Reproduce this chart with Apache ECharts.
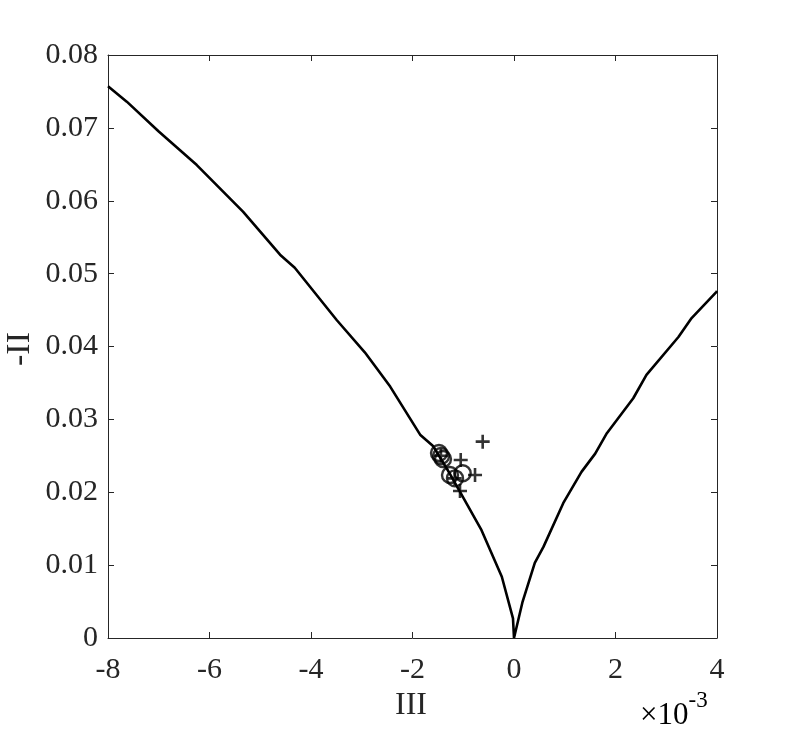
<!DOCTYPE html>
<html><head><meta charset="utf-8">
<script src="https://cdn.jsdelivr.net/npm/echarts@6/dist/echarts.min.js"></script>
<style>html,body{margin:0;padding:0;background:#fff}#c{width:793px;height:733px}</style>
</head><body><div id="c"></div>
<script>
// x values in units of 1e-3
const curveX = [-8.0, -7.63, -7.0, -6.25, -5.34, -4.61, -4.32, -3.49, -2.94, -2.44, -1.85, -1.59, -1.26, -0.64, -0.24, -0.02, 0.0, 0.17, 0.41, 0.58, 0.97, 1.33, 1.60, 1.83, 2.35, 2.61, 3.24, 3.50, 3.99, 4.0];
const curveY = [0.0757, 0.0736, 0.0695, 0.0649, 0.0585, 0.0526, 0.0508, 0.0436, 0.0392, 0.0345, 0.0279, 0.0263, 0.0225, 0.0148, 0.0084, 0.0027, 0.0, 0.0050, 0.0103, 0.0125, 0.0185, 0.0228, 0.0253, 0.0281, 0.0329, 0.0361, 0.0413, 0.0439, 0.0475, 0.0476];
const circX = [-1.478, -1.438, -1.399, -1.261, -1.163, -1.011];
const circY = [0.02539, 0.02497, 0.02456, 0.02237, 0.02191, 0.02260];
const plusX = [-0.617, -1.050, -0.768, -1.064, -1.44, -1.17];
const plusY = [0.02694, 0.02443, 0.02237, 0.02017, 0.0250, 0.0219];
const xTicks = [-8, -6, -4, -2, 0, 2, 4];
const yTicks = [0, 0.01, 0.02, 0.03, 0.04, 0.05, 0.06, 0.07, 0.08];

const zip = (a, b) => a.map((v, i) => [v, b[i]]);
const font = "Liberation Serif";
const axC = '#262626';
const chart = echarts.init(document.getElementById('c'));
const plusPath = 'path://M0,-1L0,1M-1,0L1,0';
chart.setOption({
  animation: false,
  grid: {left: 108, top: 55, right: 76, bottom: 95},
  xAxis: [{
    type: 'value', min: -8, max: 4, interval: 2, position: 'bottom',
    axisLine: {onZero: false, lineStyle: {color: axC, width: 1}},
    axisTick: {inside: true, length: 6, lineStyle: {color: axC}},
    splitLine: {show: false},
    axisLabel: {margin: 17, color: axC, fontFamily: font, fontSize: 30, formatter: v => String(v)}
  }, {
    type: 'value', min: -8, max: 4, interval: 2, position: 'top',
    axisLine: {onZero: false, lineStyle: {color: axC, width: 1}},
    axisTick: {inside: true, length: 6, lineStyle: {color: axC}},
    splitLine: {show: false}, axisLabel: {show: false}
  }],
  yAxis: [{
    type: 'value', min: 0, max: 0.08, interval: 0.01, position: 'left',
    axisLine: {onZero: false, lineStyle: {color: axC, width: 1}},
    axisTick: {inside: true, length: 6, lineStyle: {color: axC}},
    splitLine: {show: false},
    axisLabel: {margin: 10, color: axC, fontFamily: font, fontSize: 30,
      formatter: v => v === 0 ? '0' : v.toFixed(2)}
  }, {
    type: 'value', min: 0, max: 0.08, interval: 0.01, position: 'right',
    axisLine: {onZero: false, lineStyle: {color: axC, width: 1}},
    axisTick: {inside: true, length: 6, lineStyle: {color: axC}},
    splitLine: {show: false}, axisLabel: {show: false}
  }],
  series: [{
    type: 'line', data: zip(curveX, curveY), showSymbol: false, symbol: 'none',
    lineStyle: {color: '#000', width: 2.6}, z: 2
  }, {
    type: 'scatter', data: zip(circX, circY), symbol: 'circle', symbolSize: 16,
    itemStyle: {color: 'rgba(0,0,0,0)', borderColor: '#000', borderWidth: 2.4}, z: 3
  }, {
    type: 'scatter', data: zip(plusX, plusY), symbol: plusPath, symbolSize: 14,
    itemStyle: {color: 'rgba(0,0,0,0)', borderColor: '#000', borderWidth: 2.6}, z: 3
  }],
  graphic: [
    {type: 'text', left: 395, top: 690, style: {text: 'III', fontFamily: font, fontSize: 32, fill: axC}},
    {type: 'text', x: 3, y: 366, rotation: Math.PI / 2, style: {text: '-II', fontFamily: font, fontSize: 34, fill: axC}},
    {type: 'text', left: 640, top: 689, style: {
      text: '{a|\u00d710}{b|-3}', rich: {
        a: {fontSize: 31, fontFamily: font, color: axC, padding: [18, 0, 0, 0]},
        b: {fontSize: 23, fontFamily: font, color: axC, padding: [0, 0, 12, 0]}
      }}}
  ]
});
</script></body></html>
